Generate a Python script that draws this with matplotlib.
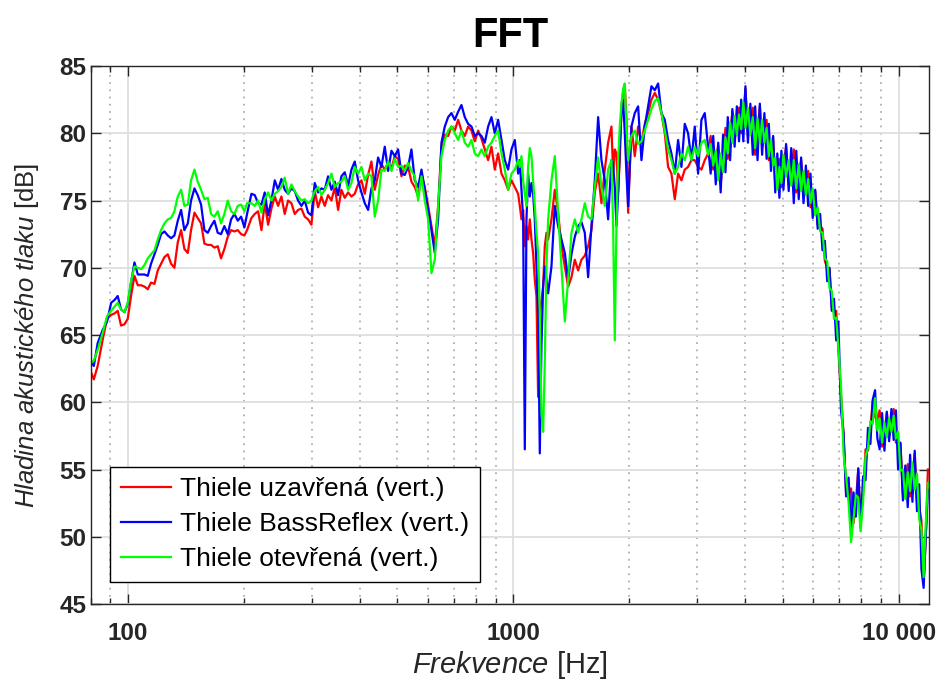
import numpy as np
import matplotlib
matplotlib.use("Agg")
import matplotlib.pyplot as plt
from matplotlib.ticker import FixedLocator, FixedFormatter, LogLocator, NullFormatter

plt.rcParams['font.family'] = ['Liberation Sans', 'DejaVu Sans']
plt.rcParams['mathtext.fontset'] = 'custom'
plt.rcParams['mathtext.rm'] = 'Liberation Sans'
plt.rcParams['mathtext.it'] = 'Liberation Sans:italic'

# frekvence [Hz] a hladiny [dB] tri mereni (vertikalni poloha mikrofonu)
freq_hz = [
    # 80 - 200 Hz
    80.0, 81.5, 83.4, 86.0, 88.2, 90.4, 92.2, 94.0, 95.9, 97.9, 99.8, 101.8, 103.9, 106.0, 108.1, 110.3,
    112.5, 114.7, 117.1, 119.4, 121.8, 124.3, 126.8, 129.3, 131.9, 134.6, 137.3, 140.0, 142.9, 145.7,
    148.7, 151.6, 154.7, 157.8, 161.0, 164.2, 167.5, 170.9, 174.3, 177.8, 181.4, 185.1, 188.8, 192.6,
    196.5, 200.4, 203.6,
    # 200 - 570 Hz
    209.0, 213.2, 217.5, 221.9, 226.3, 230.9, 235.5, 240.3, 245.1, 250.0, 255.0, 260.2, 265.4, 270.7,
    276.2, 281.8, 287.4, 293.2, 299.1, 305.1, 311.3, 317.5, 323.9, 330.4, 337.1, 343.9, 350.8, 357.8,
    365.0, 372.4, 379.9, 387.5, 395.3, 403.3, 411.4, 419.7, 428.1, 436.7, 445.5, 454.5, 463.6, 473.0,
    482.5, 492.2, 502.1, 512.2, 522.5, 533.0, 543.7, 554.7, 565.9,
    # 570 - 1400 Hz
    577.3, 588.9, 600.7, 612.8, 625.1, 637.7, 650.5, 663.6, 677.0, 690.6, 704.5, 718.7, 733.1, 747.9,
    762.9, 778.3, 793.9, 809.9, 826.2, 842.8, 859.8, 877.1, 894.7, 912.7, 931.1, 949.8, 968.9, 988.4,
    1008.3, 1028.6, 1038.9, 1049.3, 1059.8, 1070.4, 1081.1, 1091.9, 1102.8, 1113.9, 1125.0, 1136.3,
    1147.7, 1159.1, 1170.7, 1182.4, 1194.3, 1206.2, 1218.3, 1230.5, 1255.3, 1280.5, 1306.3, 1332.6,
    1359.4, 1386.7,
    # 1400 - 3200 Hz
    1414.6, 1443.1, 1472.1, 1501.7, 1531.9, 1562.7, 1594.1, 1626.2, 1658.9, 1692.3, 1726.3, 1761.0,
    1796.4, 1814.4, 1832.6, 1850.9, 1869.4, 1888.1, 1907.1, 1926.2, 1945.4, 1964.9, 1984.5, 2024.4,
    2065.1, 2106.7, 2149.0, 2192.3, 2236.4, 2281.3, 2327.2, 2374.0, 2421.7, 2470.4, 2520.1, 2570.8,
    2622.5, 2675.3, 2729.1, 2784.0, 2840.0, 2897.1, 2955.3, 3014.8, 3075.4, 3137.3, 3200.4,
    # 3200 - 12000 Hz
    3250, 3300, 3350, 3400, 3450, 3500, 3550, 3600, 3650, 3700, 3750, 3800, 3850, 3900, 3950, 4000,
    4060, 4120, 4180, 4240, 4300, 4360, 4420, 4480, 4540, 4600, 4660, 4720, 4780, 4840, 4900, 4960, 5020,
    5100, 5180, 5260, 5340, 5420, 5500, 5580, 5660, 5740, 5820, 5900, 5980,
    6070, 6160, 6250, 6340, 6430, 6520, 6610, 6700, 6790, 6880, 6970,
    7080, 7190, 7300, 7410, 7520, 7630, 7740, 7850, 7960,
    8080, 8200, 8320, 8440, 8560, 8680, 8800, 8920,
    9050, 9180, 9310, 9440, 9570, 9700, 9830, 9960,
    10100, 10250, 10400, 10550, 10700, 10850, 11000, 11150, 11300, 11450, 11600, 11750, 11900,
]

spl_uzavrena = [
    62.3, 61.7, 62.7, 64.7, 66.2, 66.5, 66.6, 66.8, 65.7, 65.8, 66.2, 67.9, 69.4, 68.7, 68.7, 68.6,
    68.4, 68.9, 68.8, 69.8, 70.3, 70.8, 71.0, 70.3, 70.0, 71.9, 72.8, 71.4, 71.1, 72.8, 74.1, 73.7,
    73.3, 71.8, 71.7, 71.7, 71.5, 71.6, 70.7, 71.4, 72.3, 72.8, 72.7, 72.8, 72.5, 72.4, 72.8,
    73.7, 74.0, 74.2, 72.8, 74.8, 73.2, 74.4, 75.3, 74.6, 75.3, 74.0, 75.0, 74.8, 74.0, 74.3, 74.4,
    73.8, 73.6, 73.2, 75.7, 74.5, 75.3, 74.6, 75.4, 75.0, 76.0, 74.3, 75.8, 75.2, 75.6, 75.3, 75.5,
    76.2, 76.5, 75.5, 76.9, 77.9, 75.8, 76.9, 77.7, 77.3, 77.8, 77.4, 78.3, 78.1, 76.8, 77.6, 77.5,
    76.4, 76.0, 75.3,
    77.0, 76.0, 74.6, 73.1, 71.6, 74.6, 79.0, 79.9, 79.8, 80.5, 80.2, 81.0, 80.2, 79.8, 80.5, 80.2,
    79.4, 80.2, 79.6, 78.8, 78.0, 79.0, 77.3, 78.5, 77.0, 76.5, 75.8, 76.5, 76.0,
    75.5, 74.6, 73.6, 74.3, 71.6, 73.1, 72.1, 73.6, 72.1, 71.1, 69.1, 67.9, 60.4, 66.6, 67.6, 68.6,
    71.6, 72.6, 72.1, 73.6, 75.8, 74.1, 71.6, 70.1, 68.6,
    69.3, 70.6, 69.8, 70.6, 70.9, 71.6, 72.8, 75.6, 77.0, 74.8, 77.3, 79.3, 80.5,
    77.0, 78.8, 78.5, 75.6, 78.0, 82.0, 83.0, 83.5, 81.0, 74.1,
    80.5, 78.3, 80.5, 79.3, 80.7, 81.5, 82.5, 83.0, 82.5, 81.5, 80.0, 77.5, 77.0, 75.1, 77.0, 76.5,
    77.3, 77.5, 78.0, 78.0, 77.5, 77.3, 78.0, 78.5,
    79.8, 77.3, 77.9, 79.1, 76.2, 78.1, 80.4, 78.1, 79.9, 81.6, 79.5, 80.6, 81.9, 80.0, 81.3, 83.3,
    79.8, 80.7, 81.9, 78.4, 80.1, 82.0, 78.9, 80.0, 81.0, 78.0, 78.8, 79.7, 76.1, 76.7, 78.1, 76.0,
    77.5, 79.0, 76.2, 77.1, 78.8, 75.6, 76.8, 78.0, 75.3, 76.2, 77.2, 74.5, 75.2, 75.7, 73.2, 73.1,
    72.9, 70.5, 70.0, 69.9, 67.1, 66.7, 66.8, 63.9, 60.6, 57.6, 53.3, 53.2, 53.6, 51.0, 52.6, 55.0,
    51.1, 53.2, 56.5, 56.4, 58.1, 60.1, 58.9, 58.7, 59.4, 56.7, 57.8, 59.2, 57.4, 58.4, 59.5, 57.0,
    56.9, 56.9, 53.2, 53.7, 55.4, 53.0, 54.5, 56.2, 52.5, 52.2, 51.2, 46.6, 49.9, 55.0,
]

spl_bassreflex = [
    63.0, 62.7, 64.4, 65.4, 66.0, 67.4, 67.6, 67.9, 66.9, 66.7, 67.3, 68.9, 70.4, 69.5, 69.5, 69.5,
    69.4, 70.3, 71.0, 71.7, 72.5, 72.7, 72.4, 72.2, 72.4, 73.5, 74.3, 72.8, 73.3, 75.0, 75.9, 75.4,
    74.7, 72.8, 72.6, 73.1, 73.5, 72.6, 72.5, 73.1, 72.5, 73.6, 74.0, 73.5, 73.8, 73.0, 74.0,
    75.5, 75.4, 74.8, 74.7, 75.6, 73.9, 75.0, 76.5, 75.8, 76.6, 75.8, 75.5, 75.9, 75.7, 75.0, 74.6,
    75.0, 74.1, 73.9, 76.3, 75.6, 75.9, 75.8, 76.8, 75.8, 76.4, 75.4, 76.8, 77.1, 76.1, 77.3, 77.9,
    76.5, 75.6, 74.8, 74.3, 75.9, 76.5, 78.2, 77.5, 79.0, 77.2, 78.7, 78.3, 78.8, 77.0, 76.9, 77.5,
    78.8, 76.5, 76.0,
    77.3, 75.8, 74.3, 72.8, 71.1, 73.6, 79.3, 80.5, 81.2, 81.5, 81.0, 81.6, 82.1, 81.2, 80.7, 80.5,
    79.8, 80.0, 79.8, 79.3, 80.5, 81.2, 80.0, 81.0, 79.5, 78.0, 77.3, 78.8, 79.5,
    77.0, 78.0, 75.8, 73.6, 56.5, 73.6, 77.0, 75.3, 76.3, 75.5, 73.6, 70.1, 66.6, 56.2, 64.2, 68.6,
    70.1, 69.1, 68.1, 70.1, 74.6, 73.1, 72.1, 71.1, 69.1,
    71.0, 72.3, 73.1, 73.4, 72.6, 69.3, 73.1, 76.5, 81.2, 78.0, 76.5, 73.6, 78.0,
    77.6, 76.0, 73.1, 75.5, 79.0, 81.5, 82.5, 80.0, 77.0, 74.6,
    80.5, 81.5, 82.0, 78.0, 80.5, 82.0, 83.5, 83.2, 83.7, 81.5, 81.0, 79.5, 78.5, 77.0, 79.5, 77.5,
    80.7, 80.0, 78.0, 80.5, 77.0, 81.0, 81.5, 79.0,
    77.0, 79.8, 76.2, 79.3, 75.6, 79.9, 77.1, 81.2, 78.0, 81.8, 79.0, 82.0, 79.4, 82.5, 79.4, 83.5,
    79.3, 82.2, 78.4, 82.0, 78.0, 82.2, 78.4, 81.5, 78.1, 80.7, 77.2, 79.8, 75.6, 78.5, 75.2, 78.7,
    75.8, 79.2, 75.7, 78.9, 74.8, 78.7, 75.1, 78.2, 74.8, 77.6, 74.6, 77.0, 73.7, 75.8, 72.9, 74.0,
    71.3, 72.0, 69.0, 70.0, 66.8, 67.7, 64.6, 66.0, 59.4, 57.7, 53.0, 54.4, 50.5, 53.3, 51.5, 55.1,
    50.7, 54.5, 54.2, 58.1, 56.9, 60.2, 60.9, 57.3, 56.5, 59.2, 56.4, 59.3, 57.1, 59.5, 57.2, 59.4,
    55.0, 57.0, 52.7, 55.3, 52.2, 56.1, 52.6, 56.4, 51.9, 53.9, 47.6, 46.2, 50.0, 53.5,
]

spl_otevrena = [
    62.9, 63.1, 63.9, 65.2, 66.4, 66.8, 67.1, 67.4, 66.9, 66.7, 67.4, 69.0, 70.1, 70.0, 69.9, 70.2,
    70.7, 71.0, 71.3, 72.1, 72.8, 73.3, 73.6, 73.7, 74.2, 75.3, 75.8, 74.6, 74.7, 76.5, 77.3, 76.4,
    75.8, 75.1, 75.2, 74.0, 73.8, 74.2, 73.3, 74.0, 75.0, 74.2, 74.0, 74.6, 74.7, 74.2, 74.8,
    74.8, 74.6, 75.0, 74.1, 75.1, 75.6, 75.0, 75.5, 75.7, 76.0, 76.7, 75.5, 76.2, 75.7, 75.3, 75.0,
    75.1, 74.8, 75.0, 75.7, 76.0, 75.4, 75.8, 76.3, 77.0, 76.0, 76.3, 76.4, 76.8, 75.8, 76.3, 77.5,
    77.0, 77.5, 76.5, 77.0, 76.8, 73.8, 75.0, 77.3, 77.2, 77.9, 77.2, 78.1, 77.5, 77.6, 77.2, 77.8,
    77.2, 76.8, 75.0,
    76.8, 75.0, 73.6, 69.6, 70.6, 74.6, 78.3, 79.5, 80.2, 80.5, 80.0, 79.5, 80.2, 79.3, 79.0, 79.5,
    78.5, 78.3, 78.8, 78.3, 79.0, 79.3, 79.8, 80.2, 78.5, 77.3, 75.8, 77.0, 77.3,
    78.0, 77.5, 78.3, 76.5, 75.5, 74.6, 77.5, 78.9, 78.3, 76.5, 74.6, 72.6, 71.1, 66.6, 59.2, 57.8,
    63.0, 70.1, 73.6, 76.5, 78.3, 74.1, 70.1, 66.0, 69.1,
    72.6, 73.6, 72.6, 73.6, 74.8, 73.8, 73.6, 76.0, 78.2, 76.0, 74.6, 77.3, 78.0,
    73.1, 64.6, 73.1, 78.0, 80.5, 82.2, 83.3, 83.7, 80.5, 78.0,
    79.8, 80.2, 79.2, 79.4, 80.2, 81.0, 81.8, 82.4, 82.6, 81.5, 80.2, 78.8, 78.0, 77.0, 77.5, 78.5,
    78.0, 79.0, 78.0, 79.0, 78.3, 79.3, 79.5, 78.4,
    79.2, 77.6, 78.7, 76.5, 78.5, 77.1, 79.7, 78.5, 80.8, 79.3, 81.3, 79.9, 81.4, 80.3, 82.3, 80.4,
    81.9, 79.9, 81.2, 78.9, 81.1, 79.3, 81.0, 79.3, 80.4, 78.3, 79.5, 77.6, 78.2, 75.8, 77.5, 76.3,
    78.4, 76.8, 78.0, 76.1, 78.0, 75.9, 77.7, 75.7, 77.2, 75.4, 76.6, 74.8, 75.9, 73.9, 74.5, 72.7,
    72.6, 70.7, 70.5, 68.5, 68.3, 66.2, 66.3, 64.1, 61.2, 56.2, 54.5, 52.5, 49.6, 51.3, 53.1, 52.9,
    50.4, 52.6, 56.0, 56.6, 58.6, 58.4, 60.3, 57.9, 58.8, 57.0, 58.5, 57.4, 58.8, 57.8, 59.0, 57.3,
    57.8, 54.9, 55.0, 52.8, 54.8, 53.4, 55.5, 53.5, 54.7, 51.3, 50.5, 47.0, 51.0, 54.0,
]

labels = ['Thiele uzavřená (vert.)', 'Thiele BassReflex (vert.)', 'Thiele otevřená (vert.)']
colors = ['#ff0000', '#0000ff', '#00ff00']

x_ticks = [100, 1000, 10000]
x_ticklabels = ['100', '1000', '10 000']
y_ticks = [45, 50, 55, 60, 65, 70, 75, 80, 85]

fig = plt.figure(figsize=(9.42, 6.87), dpi=100)
ax = fig.add_axes([0.0963, 0.1208, 0.8902, 0.7831])

f = np.array(freq_hz)
for spl, lab, c in zip([spl_uzavrena, spl_bassreflex, spl_otevrena], labels, colors):
    ax.plot(f, spl, color=c, lw=1.6, label=lab)

ax.set_xscale('log')
ax.set_xlim(80, 12000)
ax.set_ylim(45, 85)

ax.xaxis.set_major_locator(FixedLocator(x_ticks))
ax.xaxis.set_major_formatter(FixedFormatter(x_ticklabels))
ax.xaxis.set_minor_locator(LogLocator(base=10, subs=np.arange(2, 10)))
ax.xaxis.set_minor_formatter(NullFormatter())
ax.set_yticks(y_ticks)

ax.grid(True, which='major', color='#dedede', lw=1.3, ls='-')
ax.grid(True, which='minor', axis='x', color='#b0b0b0', lw=1.3, ls=(0, (1, 3)))
ax.set_axisbelow(True)

ax.tick_params(which='both', direction='in', top=True, right=True, color='#262626', width=1)
ax.tick_params(which='major', length=7)
ax.tick_params(which='minor', length=4)
ax.tick_params(axis='x', which='major', pad=13)
ax.tick_params(axis='y', which='major', pad=3)
for lab in ax.get_xticklabels() + ax.get_yticklabels():
    lab.set_fontsize(17.5)
    lab.set_fontweight('bold')
    lab.set_color('#262626')
for sp in ax.spines.values():
    sp.set_color('#262626')
    sp.set_linewidth(1.0)

ax.set_title('FFT', fontsize=30, fontweight='bold', pad=14)
ax.set_xlabel(r'$\mathit{Frekvence}$ [Hz]', fontsize=21, color='#262626', labelpad=3)
ax.set_ylabel(r'$\mathit{Hladina\ akustického\ tlaku}$ [dB]', fontsize=18.5, color='#262626',
              labelpad=13)

leg = ax.legend(loc='lower left', bbox_to_anchor=(0.023, 0.041), borderaxespad=0,
                fontsize=19, frameon=True, fancybox=False, framealpha=1, edgecolor='black',
                handlelength=1.9, handletextpad=0.35, labelspacing=0.42, borderpad=0.4)
leg.get_frame().set_linewidth(1.0)

fig.savefig('out.png', dpi=100, facecolor='white')
